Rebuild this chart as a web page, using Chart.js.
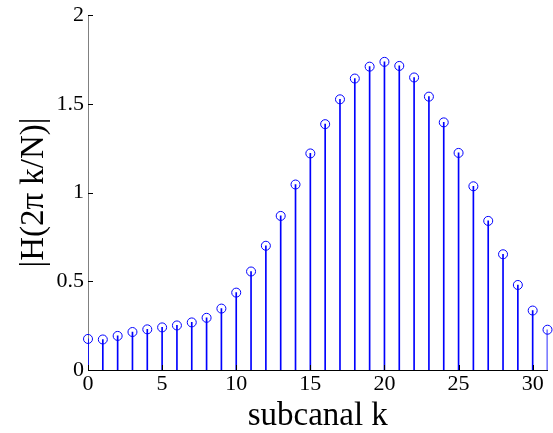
<!DOCTYPE html>
<html>
<head>
<meta charset="utf-8">
<script src="https://cdn.jsdelivr.net/npm/chart.js@4/dist/chart.umd.min.js"></script>
<style>
  html, body { margin: 0; padding: 0; background: #ffffff; }
  #wrap { width: 553px; height: 433px; position: relative; }
</style>
</head>
<body>
<div id="wrap"><canvas id="c" width="553" height="433"></canvas></div>
<script>
const subcanal = [0, 1, 2, 3, 4, 5, 6, 7, 8, 9, 10, 11, 12, 13, 14, 15,
                  16, 17, 18, 19, 20, 21, 22, 23, 24, 25, 26, 27, 28, 29, 30, 31];
const magnitude = [0.175, 0.172, 0.192, 0.214, 0.229, 0.240, 0.251, 0.268,
                   0.294, 0.346, 0.436, 0.555, 0.700, 0.868, 1.045, 1.220,
                   1.385, 1.525, 1.642, 1.709, 1.736, 1.713, 1.648, 1.540,
                   1.395, 1.223, 1.035, 0.840, 0.652, 0.479, 0.335, 0.227];
const xTickValues = [0, 5, 10, 15, 20, 25, 30];
const yTickValues = [0, 0.5, 1, 1.5, 2];
const yTickLabels = ['0', '0.5', '1', '1.5', '2'];
const xTitle = 'subcanal k';
const yTitle = '|H(2\u03C0 k/N)|';

const points = subcanal.map((k, i) => ({ x: k, y: magnitude[i] }));
const FONT = '"Liberation Serif", "Times New Roman", serif';

const innerTicks = {
  id: 'innerTicks',
  afterDraw(chart) {
    const ctx = chart.ctx;
    const xs = chart.scales.x, ys = chart.scales.y;
    ctx.save();
    ctx.strokeStyle = '#000000';
    ctx.lineWidth = 1;
    ctx.beginPath();
    yTickValues.forEach(v => {
      const py = Math.round(ys.getPixelForValue(v)) + 0.5;
      ctx.moveTo(xs.left, py);
      ctx.lineTo(xs.left + 5, py);
    });
    xTickValues.forEach(v => {
      const px = Math.round(xs.getPixelForValue(v)) + 0.5;
      ctx.moveTo(px, ys.bottom);
      ctx.lineTo(px, ys.bottom - 5);
    });
    ctx.stroke();
    ctx.restore();
  }
};

new Chart(document.getElementById('c'), {
  type: 'bar',
  data: {
    datasets: [
      {
        type: 'scatter',
        data: points,
        showLine: false,
        pointStyle: 'circle',
        pointRadius: 4.5,
        pointHoverRadius: 4.5,
        pointBorderWidth: 1,
        pointBorderColor: '#0000ff',
        pointBackgroundColor: 'rgba(0,0,0,0)',
        clip: false,
        order: 0
      },
      {
        type: 'bar',
        data: points,
        backgroundColor: '#0000ff',
        borderWidth: 0,
        barThickness: 1,
        order: 1
      }
    ]
  },
  options: {
    responsive: false,
    animation: false,
    devicePixelRatio: 1,
    layout: { padding: { top: 12, right: 2, left: 0, bottom: 0 } },
    plugins: { legend: { display: false }, tooltip: { enabled: false } },
    scales: {
      x: {
        type: 'linear',
        min: 0,
        max: 31,
        offset: false,
        grid: { display: false, drawTicks: false },
        border: { display: true, color: '#000000', width: 1 },
        afterBuildTicks: (s) => { s.ticks = xTickValues.map(v => ({ value: v })); },
        afterFit: (s) => { s.height = 63; },
        ticks: {
          autoSkip: false,
          maxRotation: 0,
          padding: 3,
          color: '#000000',
          font: { family: FONT, size: 22, lineHeight: 1 },
          callback: (v) => String(v)
        },
        title: {
          display: true,
          text: xTitle,
          color: '#000000',
          font: { family: FONT, size: 33, lineHeight: 1 },
          padding: { top: 0, bottom: 0 }
        }
      },
      y: {
        type: 'linear',
        min: 0,
        max: 2,
        grid: { display: false, drawTicks: false },
        border: { display: true, color: '#808080', width: 1 },
        afterBuildTicks: (s) => { s.ticks = yTickValues.map(v => ({ value: v })); },
        afterFit: (s) => { s.width = 88; },
        ticks: {
          padding: 4,
          color: '#000000',
          font: { family: FONT, size: 22, lineHeight: 1 },
          callback: (v) => yTickLabels[yTickValues.indexOf(v)]
        },
        title: {
          display: true,
          text: yTitle,
          color: '#000000',
          font: { family: FONT, size: 33, lineHeight: 1 },
          padding: { top: 18, bottom: 0 }
        }
      }
    }
  },
  plugins: [innerTicks]
});
</script>
</body>
</html>
